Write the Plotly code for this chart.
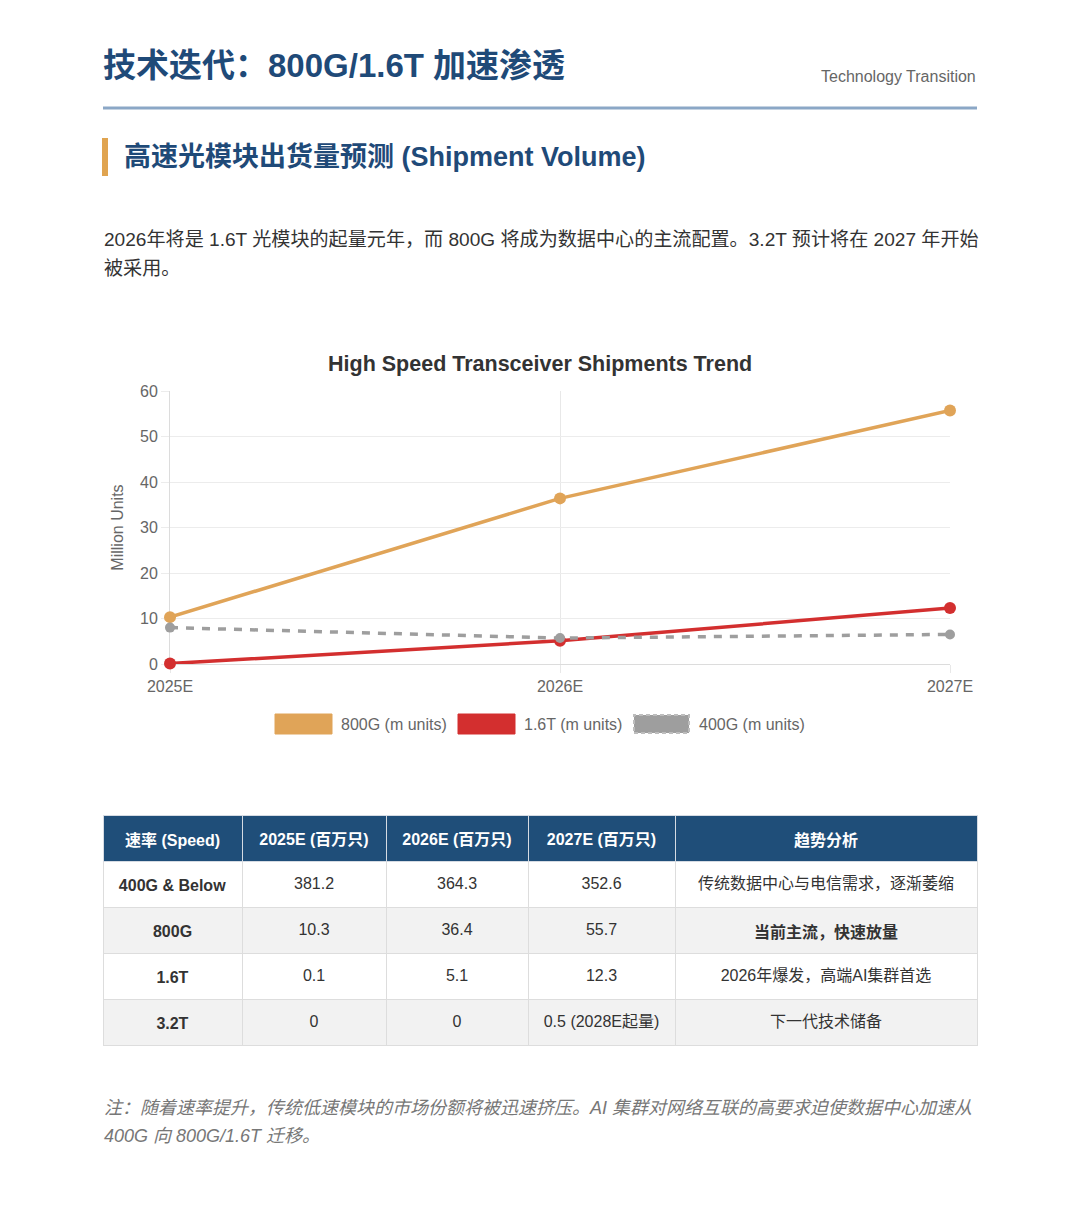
import plotly.graph_objects as go

W, H = 1080, 1210
FONT = "Liberation Sans, Noto Sans CJK SC, sans-serif"
NAVY = "#1f4a78"

# ---- data ----
years = ["2025E", "2026E", "2027E"]
s800 = [10.3, 36.4, 55.7]
s16 = [0.1, 5.1, 12.3]
s400 = [8.0, 5.7, 6.5]
series_names = ["800G (m units)", "1.6T (m units)", "400G (m units)"]
series_colors = ["#e0a458", "#d32f2f", "#9e9e9e"]
y_ticks = [0, 10, 20, 30, 40, 50, 60]

tbl_header = ["速率 (Speed)", "2025E (百万只)", "2026E (百万只)", "2027E (百万只)", "趋势分析"]
tbl_speed = ["400G & Below", "800G", "1.6T", "3.2T"]
tbl_2025 = ["381.2", "10.3", "0.1", "0"]
tbl_2026 = ["364.3", "36.4", "5.1", "0"]
tbl_2027 = ["352.6", "55.7", "12.3", "0.5 (2028E起量)"]
tbl_trend = ["传统数据中心与电信需求，逐渐萎缩", "当前主流，快速放量", "2026年爆发，高端AI集群首选", "下一代技术储备"]
tbl_trend_bold = [False, True, False, False]


def px(x):
    return x / W


def py(y):
    return 1 - y / H


fig = go.Figure()

# ---- lines ----
fig.add_trace(go.Scatter(x=years, y=s800, mode="lines+markers", name=series_names[0],
                         line=dict(color=series_colors[0], width=3.5), cliponaxis=False,
                         marker=dict(size=12, color=series_colors[0]), showlegend=False))
fig.add_trace(go.Scatter(x=years, y=s16, mode="lines+markers", name=series_names[1],
                         line=dict(color=series_colors[1], width=3.5), cliponaxis=False,
                         marker=dict(size=12, color=series_colors[1]), showlegend=False))
fig.add_trace(go.Scatter(x=years, y=s400, mode="lines+markers", name=series_names[2],
                         line=dict(color=series_colors[2], width=3.5, dash="8px,8px"), cliponaxis=False,
                         marker=dict(size=10, color=series_colors[2]), showlegend=False))

# ---- table ----
speed_cells = ["<b>%s</b>" % s for s in tbl_speed]
trend_cells = ["<b>%s</b>" % t if b else t for t, b in zip(tbl_trend, tbl_trend_bold)]
row_fills = ["#ffffff", "#f2f2f2", "#ffffff", "#f2f2f2"]
col_w = [139, 144, 142, 147, 302]
n_cols = len(tbl_header)
n_rows = len(tbl_speed)
TRANSP = "rgba(0,0,0,0)"

# table grid and fills
fig.add_trace(go.Table(
    domain=dict(x=[px(103), px(977)], y=[py(1047), py(815)]),
    columnwidth=col_w,
    header=dict(values=[""] * n_cols, fill_color="#1f4e79", line_color="#d5dbe3", height=46),
    cells=dict(values=[[""] * n_rows] * n_cols, fill_color=[row_fills] * n_cols,
               line_color="#dddddd", height=46),
))
# table text (same table, lowered a little so text sits mid-row)
fig.add_trace(go.Table(
    domain=dict(x=[px(103), px(977)], y=[py(1055), py(823)]),
    columnwidth=col_w,
    header=dict(values=["<b>%s</b>" % h for h in tbl_header],
                fill_color=TRANSP, line_color=TRANSP, align="center",
                font=dict(family=FONT, size=16, color="white"), height=46),
    cells=dict(values=[speed_cells, tbl_2025, tbl_2026, tbl_2027, trend_cells],
               fill_color=TRANSP, line_color=TRANSP, align="center",
               font=dict(family=FONT, size=16, color="#333333"), height=46),
))

fig.update_layout(
    width=W, height=H, margin=dict(l=0, r=0, t=0, b=0, autoexpand=False),
    paper_bgcolor="white", plot_bgcolor="white",
    font=dict(family=FONT, color="#666666", size=16),
    xaxis=dict(domain=[px(170), px(950)], type="category", range=[0, 2], automargin=False,
               showgrid=True, gridcolor="#e8e8e8", gridwidth=1, layer="below traces",
               showline=True, linecolor="#dcdcdc", linewidth=1,
               ticks="outside", ticklen=8, tickcolor="#e8e8e8",
               tickfont=dict(size=16, color="#666666"), fixedrange=True),
    yaxis=dict(domain=[py(664), py(391)], range=[0, 60], tickvals=y_ticks, automargin=False,
               showgrid=True, gridcolor="#ececec", gridwidth=1, layer="below traces",
               zeroline=False, showline=True, linecolor="#dcdcdc", linewidth=1,
               ticks="outside", ticklen=8, tickcolor="#ececec",
               tickfont=dict(size=16, color="#666666"),
               title=dict(text="Million Units", font=dict(size=16, color="#666666"), standoff=12),
               fixedrange=True),
)

ann = []
shapes = []

# header
ann.append(dict(text="<b>技术迭代：800G/1.6T 加速渗透</b>", x=px(101), y=py(65), xanchor="left",
                yanchor="middle", showarrow=False, font=dict(size=33, color=NAVY, family=FONT)))
ann.append(dict(text="Technology Transition", x=px(978), y=py(77), xanchor="right",
                yanchor="middle", showarrow=False, font=dict(size=16, color="#666666", family=FONT)))
shapes.append(dict(type="line", xref="paper", yref="paper", x0=px(103), x1=px(977),
                   y0=py(108), y1=py(108), line=dict(color="#8ba7c6", width=3)))
shapes.append(dict(type="rect", xref="paper", yref="paper", x0=px(102), x1=px(108),
                   y0=py(138), y1=py(176), line=dict(width=0), fillcolor="#e0a450"))
ann.append(dict(text="<b>高速光模块出货量预测 (Shipment Volume)</b>", x=px(122), y=py(157),
                xanchor="left", yanchor="middle", showarrow=False,
                font=dict(size=27, color=NAVY, family=FONT)))
ann.append(dict(text="2026年将是 1.6T 光模块的起量元年，而 800G 将成为数据中心的主流配置。3.2T 预计将在 2027 年开始",
                x=px(102), y=py(239), xanchor="left", yanchor="middle", showarrow=False,
                font=dict(size=19.1, color="#333333", family=FONT)))
ann.append(dict(text="被采用。", x=px(102), y=py(269), xanchor="left", yanchor="middle",
                showarrow=False, font=dict(size=19.1, color="#333333", family=FONT)))

# chart title
ann.append(dict(text="<b>High Speed Transceiver Shipments Trend</b>", x=px(540), y=py(364),
                xanchor="center", yanchor="middle", showarrow=False,
                font=dict(size=21.5, color="#333333", family=FONT)))

# legend (manual boxes)
leg_x = [275, 458, 633]
for i in range(3):
    x0 = leg_x[i]
    if i < 2:
        shapes.append(dict(type="rect", xref="paper", yref="paper", x0=px(x0), x1=px(x0 + 57),
                           y0=py(734), y1=py(714), fillcolor=series_colors[i],
                           line=dict(color=series_colors[i], width=1)))
    else:
        shapes.append(dict(type="rect", xref="paper", yref="paper", x0=px(x0 + 1), x1=px(x0 + 56),
                           y0=py(733), y1=py(715), fillcolor=series_colors[i],
                           line=dict(color="#bdbdbd", width=2, dash="4px,3px")))
    ann.append(dict(text=series_names[i], x=px(x0 + 64), y=py(724), xanchor="left",
                    yanchor="middle", showarrow=False,
                    font=dict(size=16, color="#666666", family=FONT)))

# footnote
ann.append(dict(text="<i>注：随着速率提升，传统低速模块的市场份额将被迅速挤压。AI 集群对网络互联的高要求迫使数据中心加速从</i>",
                x=px(102), y=py(1108), xanchor="left", yanchor="middle", showarrow=False,
                font=dict(size=18, color="#777777", family=FONT)))
ann.append(dict(text="<i>400G 向 800G/1.6T 迁移。</i>", x=px(102), y=py(1136), xanchor="left",
                yanchor="middle", showarrow=False, font=dict(size=18, color="#777777", family=FONT)))

for a in ann:
    a.setdefault("xref", "paper")
    a.setdefault("yref", "paper")
fig.update_layout(annotations=ann, shapes=shapes)

fig.write_html("out.html")
